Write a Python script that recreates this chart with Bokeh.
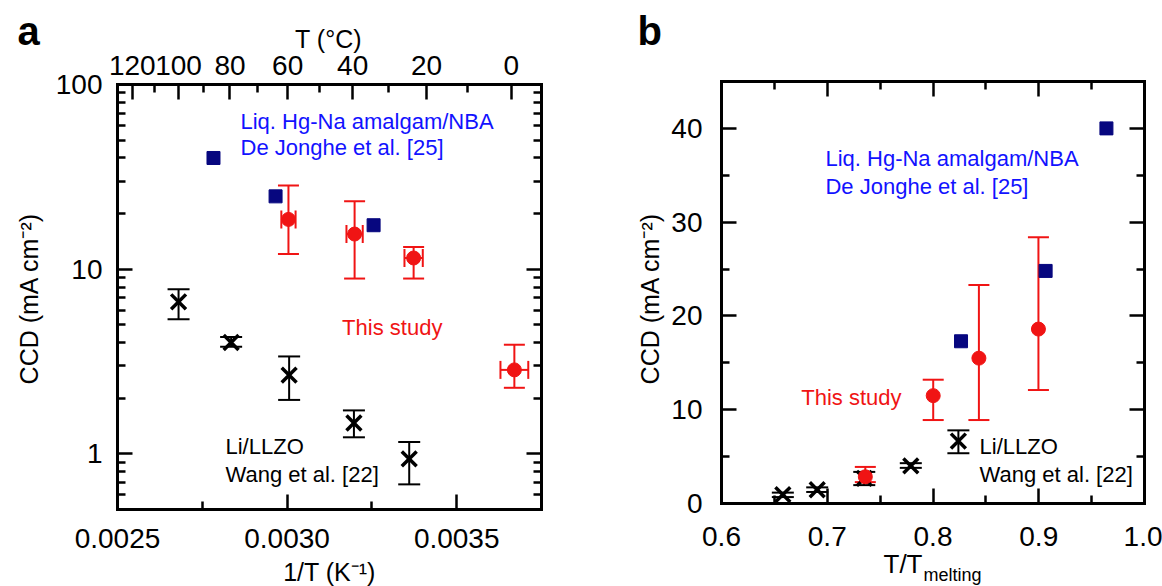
import math
from bokeh.plotting import figure
from bokeh.models import (FixedTicker, LinearAxis, LogAxis, Whisker, TeeHead, ColumnDataSource,
                          Label, CustomJSTickFormatter, Range1d)
from bokeh.layouts import row
from bokeh.embed import file_html
from bokeh.resources import INLINE

FONT = "Liberation Sans"
RED = "#f01414"
NAVY = "#07077f"
BLUE = "#1212ff"

# ---------------- data ----------------
# top axis tick labels (deg C)
top_T_major = [120, 100, 80, 60, 40, 20, 0]
top_T_minor = [110, 90, 70, 50, 30, 10]

# Panel a : CCD vs 1/T
a_xticks = [0.0025, 0.0030, 0.0035]
a_xtick_labels = ["0.0025", "0.0030", "0.0035"]
a_xminor = [0.00275, 0.00325, 0.00375]
log_major = [1, 10, 100]
log_labels = ["1", "10", "100"]
log_minor = [0.5, 0.6, 0.7, 0.8, 0.9, 2, 3, 4, 5, 6, 7, 8, 9, 20, 30, 40, 50, 60, 70, 80, 90]

wang_invT = [0.002680, 0.002835, 0.003006, 0.003197, 0.003360]
wang_ccd = [6.66, 4.01, 2.67, 1.47, 0.94]
wang_hi = [7.8, 4.3, 3.37, 1.72, 1.16]
wang_lo = [5.36, 3.8, 1.96, 1.23, 0.684]

study_invT = [0.003004, 0.003199, 0.003373, 0.003670]
study_ccd = [18.6, 15.5, 11.5, 2.85]
study_hi = [28.4, 23.3, 13.2, 3.9]
study_lo = [12.1, 8.9, 8.9, 2.28]
study_xerr = [2.1e-5, 2.4e-5, 2.7e-5, 4.1e-5]

dj_invT = [0.002783, 0.002966, 0.003255]
dj_ccd = [40.0, 24.8, 17.3]

# Panel b : CCD vs T/Tmelting
b_xticks = [0.6, 0.7, 0.8, 0.9, 1.0]
b_xtick_labels = ["0.6", "0.7", "0.8", "0.9", "1.0"]
b_xminor = [0.65, 0.75, 0.85, 0.95]
b_yticks = [0, 10, 20, 30, 40]
b_yminor = [5, 15, 25, 35, 45]

wang_tm = [0.824, 0.779, 0.735, 0.6905, 0.658]
study_tm = [0.8997, 0.8434, 0.8002, 0.736]
dj_tm = [0.964, 0.9065, 0.8265]

# ---------------- layout (pixels) ----------------
H = 586
WA, WB = 600, 562
A_L, A_R, A_T, A_B = 117, 541, 84, 509      # frame box of panel a inside its canvas
B_L, B_R, B_T, B_B = 121, 544, 81, 503      # frame box of panel b inside its canvas
AX0, AX1, AY0, AY1 = 0.0025, 0.00375, 0.5, 100.0
BX0, BX1, BY0, BY1 = 0.6, 1.0, 0.0, 45.0
TICK_FS = "28px"
NOTE_FS = "22px"
AXT_FS = "25px"


def style_axis(ax, label_size=TICK_FS):
    ax.major_tick_in = 15
    ax.major_tick_out = 0
    ax.minor_tick_in = 8
    ax.minor_tick_out = 0
    ax.axis_line_width = 3
    ax.axis_line_color = "black"
    ax.axis_line_cap = "square"
    ax.major_tick_line_width = 2.5
    ax.minor_tick_line_width = 2.5
    ax.major_tick_line_color = "black"
    ax.minor_tick_line_color = "black"
    ax.major_label_text_font = FONT
    ax.major_label_text_font_size = label_size
    ax.major_label_text_color = "black"


def blank():
    return CustomJSTickFormatter(code="return '';")


def add_label(p, x, y, text, color, size=NOTE_FS, units="data", align="left",
              baseline="middle", style="normal", angle=0.0):
    p.add_layout(Label(x=x, y=y, x_units=units, y_units=units, text=text, text_color=color,
                       text_font=FONT, text_font_size=size, text_align=align, angle=angle,
                       text_baseline=baseline, text_font_style=style))


def errbars(p, src, color, base, lo, hi, dim, size):
    p.add_layout(Whisker(source=src, base=base, lower=lo, upper=hi, dimension=dim,
                         line_color=color, line_width=2,
                         lower_head=TeeHead(size=size, line_color=color, line_width=2),
                         upper_head=TeeHead(size=size, line_color=color, line_width=2)))


def base_fig(width, xr, yr, ylog=False):
    p = figure(width=width, height=H, x_range=xr, y_range=yr,
               y_axis_type="log" if ylog else "linear",
               output_backend="svg", toolbar_location=None, min_border=0)
    p.grid.visible = False
    p.outline_line_color = None
    p.background_fill_color = "white"
    p.border_fill_color = "white"
    return p


# ---------------- Panel a ----------------
sx_a = (A_R - A_L) / (AX1 - AX0)
dec_a = (A_B - A_T) / (math.log10(AY1) - math.log10(AY0))
xr_a = Range1d(AX0 - A_L / sx_a, AX1 + (WA - A_R) / sx_a)
yr_a = Range1d(10 ** (math.log10(AY0) - (H - A_B) / dec_a), 10 ** (math.log10(AY1) + A_T / dec_a))
pa = base_fig(WA, xr_a, yr_a, ylog=True)

xa = pa.xaxis[0]
style_axis(xa)
xa.fixed_location = AY0
xa.bounds = (AX0, AX1)
xa.ticker = FixedTicker(ticks=a_xticks, minor_ticks=a_xminor)
xa.major_label_overrides = dict(zip(a_xticks, a_xtick_labels))
xa.major_label_standoff = 19

ya = pa.yaxis[0]
style_axis(ya)
ya.fixed_location = AX0
ya.bounds = (AY0, AY1)
ya.ticker = FixedTicker(ticks=log_major, minor_ticks=log_minor)
ya.major_label_overrides = dict(zip(log_major, log_labels))
ya.major_label_standoff = 15

top_a = LinearAxis(ticker=FixedTicker(ticks=[1.0 / (t + 273.15) for t in top_T_major],
                                      minor_ticks=[1.0 / (t + 273.15) for t in top_T_minor]),
                   formatter=CustomJSTickFormatter(code="return String(Math.round(1/tick - 273.15));"))
style_axis(top_a)
top_a.fixed_location = AY1
top_a.bounds = (AX0, AX1)
top_a.major_label_standoff = 10
pa.add_layout(top_a, "above")

right_a = LogAxis(ticker=FixedTicker(ticks=log_major, minor_ticks=log_minor), formatter=blank())
style_axis(right_a)
right_a.fixed_location = AX1
right_a.bounds = (AY0, AY1)
pa.add_layout(right_a, "right")

src_wa = ColumnDataSource(dict(x=wang_invT, y=wang_ccd, lo=wang_lo, hi=wang_hi))
errbars(pa, src_wa, "black", "x", "lo", "hi", "height", 22)
pa.scatter("x", "y", source=src_wa, marker="x", size=21, line_width=3.5, color="black")

src_sa = ColumnDataSource(dict(x=study_invT, y=study_ccd, lo=study_lo, hi=study_hi,
                               xlo=[a - b for a, b in zip(study_invT, study_xerr)],
                               xhi=[a + b for a, b in zip(study_invT, study_xerr)]))
errbars(pa, src_sa, RED, "x", "lo", "hi", "height", 21)
errbars(pa, src_sa, RED, "y", "xlo", "xhi", "width", 18)
pa.scatter("x", "y", source=src_sa, marker="circle", size=14, color=RED)

pa.scatter(dj_invT, dj_ccd, marker="square", size=13, color=NAVY)

add_label(pa, 0.0028626, 63.0, "Liq. Hg-Na amalgam/NBA", BLUE)
add_label(pa, 0.0028626, 45.6, "De Jonghe et al. [25]", BLUE)
add_label(pa, 0.0031622, 4.81, "This study", RED)
add_label(pa, 0.0028184, 1.096, "Li/LLZO", "black")
add_label(pa, 0.0028184, 0.778, "Wang et al. [22]", "black")
# titles / axis names (screen units: from the canvas bottom-left corner)
add_label(pa, 17, H - 30, "a", "black", size="40px", units="screen", style="bold")
add_label(pa, 328, H - 38, "T (\u00b0C)", "black", size=AXT_FS, units="screen", align="center")
add_label(pa, 329, H - 571, "1/T (K\u207b\u00b9)", "black", size=AXT_FS, units="screen", align="center")
add_label(pa, 28, H - 298, "CCD (mA cm\u207b\u00b2)", "black", size=AXT_FS, units="screen",
          align="center", angle=math.pi / 2)

# ---------------- Panel b ----------------
sx_b = (B_R - B_L) / (BX1 - BX0)
sy_b = (B_B - B_T) / (BY1 - BY0)
xr_b = Range1d(BX0 - B_L / sx_b, BX1 + (WB - B_R) / sx_b)
yr_b = Range1d(BY0 - (H - B_B) / sy_b, BY1 + B_T / sy_b)
pb = base_fig(WB, xr_b, yr_b)

xb = pb.xaxis[0]
style_axis(xb)
xb.fixed_location = BY0
xb.bounds = (BX0, BX1)
xb.ticker = FixedTicker(ticks=b_xticks, minor_ticks=b_xminor)
xb.major_label_overrides = dict(zip(b_xticks, b_xtick_labels))
xb.major_label_standoff = 23

yb = pb.yaxis[0]
style_axis(yb)
yb.fixed_location = BX0
yb.bounds = (BY0, BY1)
yb.ticker = FixedTicker(ticks=b_yticks, minor_ticks=b_yminor)
yb.major_label_standoff = 19

top_b = LinearAxis(ticker=FixedTicker(ticks=b_xticks, minor_ticks=b_xminor), formatter=blank())
style_axis(top_b)
top_b.fixed_location = BY1
top_b.bounds = (BX0, BX1)
pb.add_layout(top_b, "above")
right_b = LinearAxis(ticker=FixedTicker(ticks=b_yticks, minor_ticks=b_yminor), formatter=blank())
style_axis(right_b)
right_b.fixed_location = BX1
right_b.bounds = (BY0, BY1)
pb.add_layout(right_b, "right")

src_wb = ColumnDataSource(dict(x=wang_tm, y=wang_ccd, lo=wang_lo, hi=wang_hi))
errbars(pb, src_wb, "black", "x", "lo", "hi", "height", 22)
pb.scatter("x", "y", source=src_wb, marker="x", size=21, line_width=3.5, color="black")

src_sb = ColumnDataSource(dict(x=study_tm, y=study_ccd, lo=study_lo, hi=study_hi))
errbars(pb, src_sb, RED, "x", "lo", "hi", "height", 21)
pb.scatter("x", "y", source=src_sb, marker="circle", size=14, color=RED)

pb.scatter(dj_tm, dj_ccd, marker="square", size=13, color=NAVY)

add_label(pb, 0.6983, 36.8, "Liq. Hg-Na amalgam/NBA", BLUE)
add_label(pb, 0.6983, 33.76, "De Jonghe et al. [25]", BLUE)
add_label(pb, 0.6754, 11.3, "This study", RED)
add_label(pb, 0.844, 6.08, "Li/LLZO", "black")
add_label(pb, 0.844, 3.09, "Wang et al. [22]", "black")
add_label(pb, 37, H - 30, "b", "black", size="40px", units="screen", style="bold")
add_label(pb, 49, H - 298, "CCD (mA cm\u207b\u00b2)", "black", size=AXT_FS, units="screen",
          align="center", angle=math.pi / 2)
add_label(pb, 322, H - 563, "T/T", "black", size="26px", units="screen", align="right")
add_label(pb, 323, H - 574, "melting", "black", size="18px", units="screen", align="left")

layout = row(pa, pb)
with open("out.html", "w") as f:
    f.write(file_html(layout, INLINE))
